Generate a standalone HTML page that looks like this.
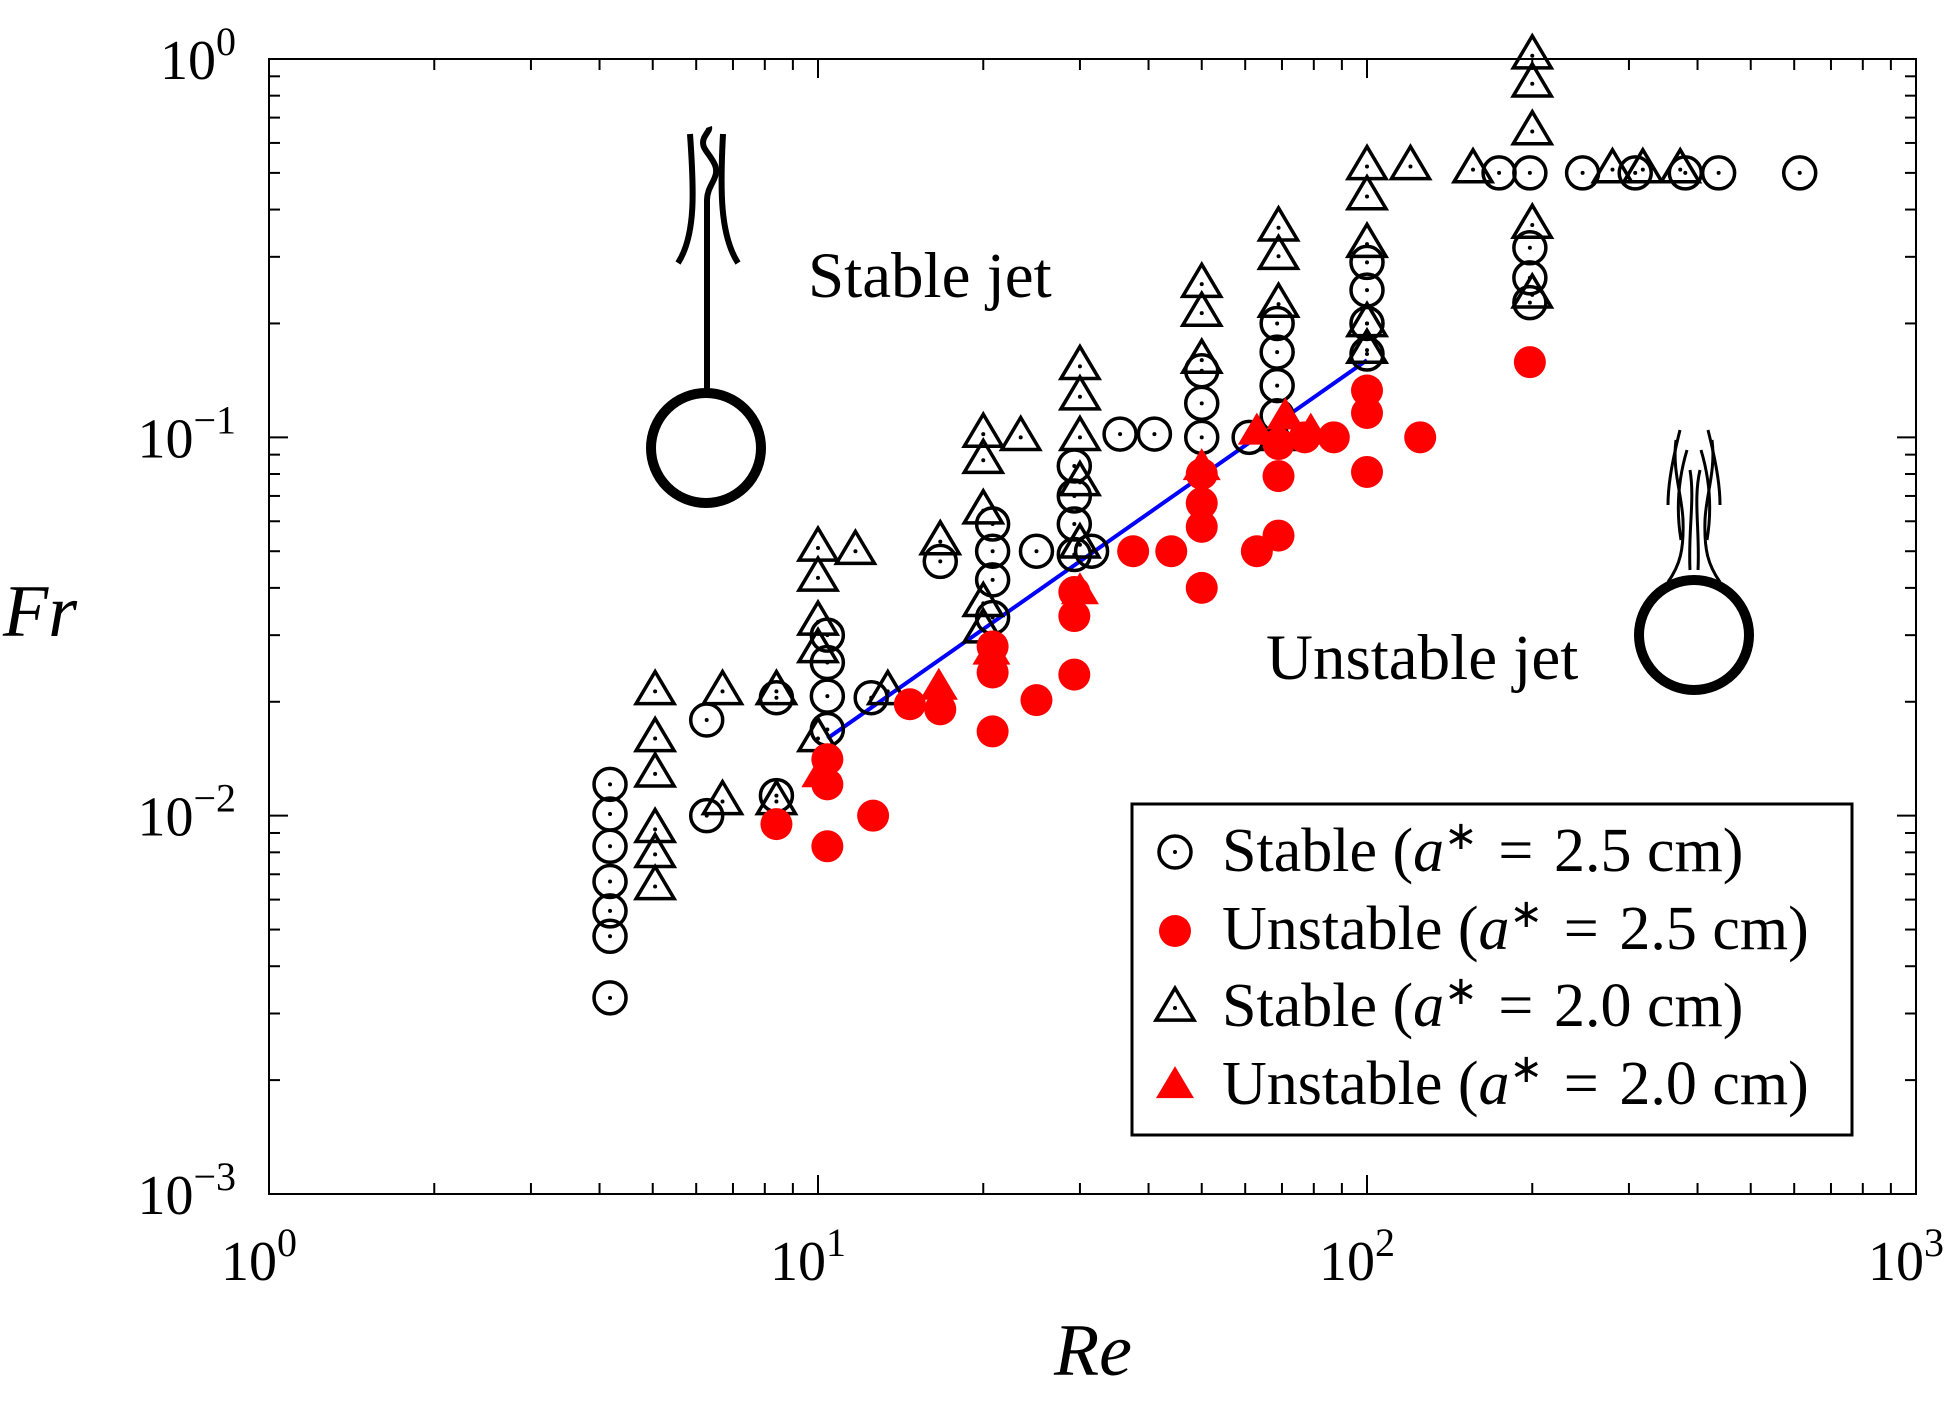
<!DOCTYPE html>
<html><head><meta charset="utf-8"><style>
html,body{margin:0;padding:0;background:#fff}
svg{display:block}
text{font-family:"Liberation Serif",serif;fill:#000}
</style></head><body>
<svg id="chart" width="1960" height="1402" viewBox="0 0 1960 1402" xmlns="http://www.w3.org/2000/svg">
<g id="ticks"></g>
<rect x="269" y="59" width="1647" height="1135" fill="none" stroke="#000" stroke-width="2"/>
<g id="labels"></g>
<text x="1093" y="1375" font-size="74" font-style="italic" text-anchor="middle">Re</text>
<text x="40" y="636" font-size="74" font-style="italic" text-anchor="middle">Fr</text>
<text x="808" y="297" font-size="65">Stable jet</text>
<text x="1266" y="679" font-size="65">Unstable jet</text>
<g fill="none" stroke="#000" stroke-linecap="butt">
<circle cx="706" cy="448" r="55" stroke-width="10"/>
<path d="M707 392 L707 200 C707 185 720 178 715 165 C709 152 700 148 704 138 C707 132 710 130 709 127" stroke-width="6"/>
<path d="M690 134 C694 190 696 235 678 263" stroke-width="6"/>
<path d="M723 134 C720 190 720 235 738 263" stroke-width="6"/>
</g>
<g fill="none" stroke="#000">
<circle cx="1694" cy="635" r="55" stroke-width="10"/>
<path d="M1668 582 C1680 565 1684 550 1683 520 C1682 495 1672 470 1676 440" stroke-width="3"/>
<path d="M1720 582 C1708 565 1704 550 1705 520 C1706 495 1716 470 1712 440" stroke-width="3"/>
<path d="M1690 570 C1688 530 1695 500 1690 470" stroke-width="3"/>
<path d="M1698 570 C1700 530 1693 500 1700 470" stroke-width="3"/>
<path d="M1680 430 C1670 470 1668 490 1668 505" stroke-width="3"/>
<path d="M1708 430 C1718 470 1720 490 1720 505" stroke-width="3"/>
<path d="M1687 450 C1678 480 1676 510 1681 540" stroke-width="3"/>
<path d="M1701 450 C1710 480 1712 510 1707 540" stroke-width="3"/>
</g>
<line id="fitline" stroke="#0000ff" stroke-width="4"/>
<g id="marks"></g>
<g>
<rect x="1132" y="804" width="720" height="331" fill="#fff" stroke="#000" stroke-width="3"/>
<g id="legmarks"></g>
<text x="1222" y="871" font-size="62">Stable (<tspan font-style="italic">a</tspan><tspan dy="-22" font-size="40">∗</tspan><tspan dy="22">&#160;&#8202;=&#160;&#8202;2.5 cm)</tspan></text>
<text x="1222" y="949" font-size="62">Unstable (<tspan font-style="italic">a</tspan><tspan dy="-22" font-size="40">∗</tspan><tspan dy="22">&#160;&#8202;=&#160;&#8202;2.5 cm)</tspan></text>
<text x="1222" y="1026" font-size="62">Stable (<tspan font-style="italic">a</tspan><tspan dy="-22" font-size="40">∗</tspan><tspan dy="22">&#160;&#8202;=&#160;&#8202;2.0 cm)</tspan></text>
<text x="1222" y="1104" font-size="62">Unstable (<tspan font-style="italic">a</tspan><tspan dy="-22" font-size="40">∗</tspan><tspan dy="22">&#160;&#8202;=&#160;&#8202;2.0 cm)</tspan></text>
</g>
</svg>
<script>
const stableCircRe=[4.18,4.18,4.18,4.18,4.18,4.18,4.18,6.27,6.27,8.4,8.4,10.4,10.4,10.4,10.4,12.5,16.7,20.8,20.8,20.8,20.8,25,29.3,29.3,29.3,29.3,31.5,35.5,41,50,50,50,61,68.6,68.6,68.6,68.6,100,100,100,100,174,198,198,198,198,247,308,380,437,614];
const stableCircFr=[0.0121,0.0101,0.0083,0.0067,0.0056,0.0048,0.0033,0.0179,0.0100,0.0205,0.0113,0.030,0.0254,0.0207,0.0169,0.0205,0.047,0.059,0.050,0.042,0.0334,0.050,0.084,0.070,0.059,0.049,0.05,0.102,0.102,0.150,0.123,0.1,0.1,0.2,0.168,0.137,0.114,0.29,0.245,0.2,0.166,0.5,0.264,0.227,0.317,0.5,0.5,0.5,0.5,0.5,0.5];
const unstableCircRe=[8.4,10.4,10.4,10.4,12.6,14.7,16.7,20.8,20.8,20.8,25,29.3,29.3,29.3,37.5,44,50,50,50,50,63,69,69,69,77,87,100,100,100,125,198];
const unstableCircFr=[0.0095,0.0141,0.0121,0.0083,0.0100,0.0197,0.0191,0.028,0.0239,0.0167,0.0202,0.039,0.0337,0.0236,0.05,0.05,0.08,0.067,0.058,0.040,0.05,0.096,0.079,0.055,0.1,0.1,0.133,0.116,0.081,0.1,0.158];
const stableTriRe=[5.05,5.05,5.05,5.05,5.05,5.05,6.7,6.7,8.4,8.4,10,10,10,10,10,11.7,13.4,16.7,20,20,20,20,20,23.4,30,30,30,30,30,50,50,50,69,69,69,69,100,100,100,100,100,120,156,200,200,200,200,200,280,318,372];
const stableTriFr=[0.0213,0.016,0.0129,0.0092,0.0079,0.0065,0.0213,0.0109,0.0213,0.0109,0.051,0.0425,0.0325,0.0275,0.016,0.05,0.0213,0.053,0.102,0.087,0.064,0.0364,0.031,0.1,0.154,0.128,0.1,0.076,0.052,0.254,0.213,0.16,0.358,0.301,0.225,0.1,0.52,0.433,0.324,0.2,0.17,0.52,0.51,1.02,0.86,0.643,0.364,0.238,0.51,0.51,0.51];
const unstableTriRe=[10.1,16.6,20.7,30,50,63,71,79];
const unstableTriFr=[0.0128,0.0218,0.027,0.039,0.083,0.103,0.113,0.103];
const fitRe=[10.4,100];
const fitFr=[0.016,0.16];
const xTickLabels=["0","1","2","3"];
const yTickLabels=["0","\u22121","\u22122","\u22123"];

const X0=269,X1=1916,Y0=59,Y1=1194;
const xs=v=>X0+Math.log10(v)/3*(X1-X0);
const ys=v=>Y0+(-Math.log10(v))/3*(Y1-Y0);
const NS="http://www.w3.org/2000/svg";
function mk(tag,attrs,parent){const e=document.createElementNS(NS,tag);for(const k in attrs)e.setAttribute(k,attrs[k]);parent.appendChild(e);return e;}

const tk=document.getElementById('ticks');
for(let d=0;d<3;d++){for(let m=1;m<10;m++){const v=m*Math.pow(10,d);const x=xs(v);const L=m===1?19:11;
const t1=mk('line',{x1:x,x2:x,y1:Y1,y2:Y1-L,stroke:'#000','stroke-width':2},tk);


const t2=mk('line',{x1:x,x2:x,y1:Y0,y2:Y0+L,stroke:'#000','stroke-width':2},tk);


const w=m*Math.pow(10,-d-1);const y=ys(w);const L2=m===1?19:11;
const t3=mk('line',{x1:X0,x2:X0+L2,y1:y,y2:y,stroke:'#000','stroke-width':2},tk);


const t4=mk('line',{x1:X1,x2:X1-L2,y1:y,y2:y,stroke:'#000','stroke-width':2},tk);


}}
const lb=document.getElementById('labels');
xTickLabels.forEach((s,i)=>{const x=xs(Math.pow(10,i));
const t=mk('text',{x:x-10,y:1280,'font-size':56,'text-anchor':'middle'},lb);


t.textContent='10';const sp=mk('tspan',{dy:-24,'font-size':40},t);sp.textContent=s;});
yTickLabels.forEach((s,i)=>{const y=ys(Math.pow(10,-i));
const t=mk('text',{x:236,y:y+20,'font-size':56,'text-anchor':'end'},lb);


t.textContent='10';const sp=mk('tspan',{dy:-24,'font-size':40},t);sp.textContent=s;});

const fl=document.getElementById('fitline');
fl.setAttribute('x1',xs(fitRe[0]));fl.setAttribute('y1',ys(fitFr[0]));
fl.setAttribute('x2',xs(fitRe[1]));fl.setAttribute('y2',ys(fitFr[1]));

function circ(g,x,y){mk('circle',{cx:x,cy:y,r:16,fill:'none',stroke:'#000','stroke-width':3.5},g);mk('circle',{cx:x,cy:y,r:2,fill:'#000'},g);}
function tri(g,x,y,fill){const h=32,w=19;const p=`${x},${y-h*0.62} ${x-w},${y+h*0.38} ${x+w},${y+h*0.38}`;
if(fill){mk('polygon',{points:p,fill:'#ff0000'},g);}else{mk('polygon',{points:p,fill:'none',stroke:'#000','stroke-width':3.5},g);mk('circle',{cx:x,cy:y,r:2,fill:'#000'},g);}}
function dot(g,x,y){mk('circle',{cx:x,cy:y,r:16,fill:'#ff0000'},g);}
const mg=document.getElementById('marks');
stableTriRe.forEach((r,i)=>{const g=mk('g',{},mg);


tri(g,xs(r),ys(stableTriFr[i]),false);});
stableCircRe.forEach((r,i)=>{const g=mk('g',{},mg);


circ(g,xs(r),ys(stableCircFr[i]));});
unstableTriRe.forEach((r,i)=>{const g=mk('g',{},mg);


tri(g,xs(r),ys(unstableTriFr[i]),true);});
unstableCircRe.forEach((r,i)=>{const g=mk('g',{},mg);


dot(g,xs(r),ys(unstableCircFr[i]));});
const lm=document.getElementById('legmarks');
circ(lm,1175,852);dot(lm,1175,931);tri(lm,1175,1008,false);tri(lm,1175,1086,true);
</script>
</body></html>
